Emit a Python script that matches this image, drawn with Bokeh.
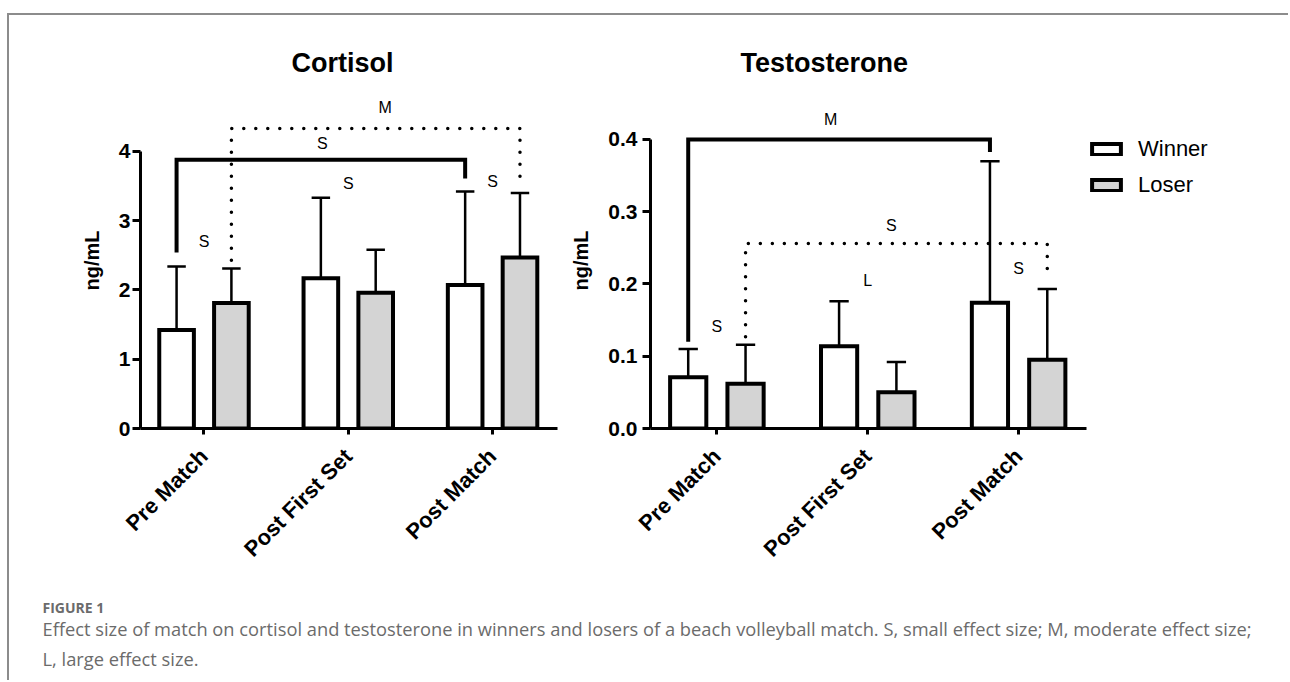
import math
from bokeh.plotting import figure
from bokeh.models import FixedTicker, Legend, LegendItem, Label, Spacer, Div
from bokeh.layouts import row, column
from bokeh.embed import file_html
from bokeh.resources import INLINE
from bokeh.core.properties import value

# ---------------- data ----------------
categories = ["Pre Match", "Post First Set", "Post Match"]
series = ["Winner", "Loser"]

cortisol_winner = [1.42, 2.17, 2.07]
cortisol_loser = [1.81, 1.96, 2.47]
cortisol_winner_err = [2.34, 3.33, 3.42]   # upper end of error bar
cortisol_loser_err = [2.31, 2.58, 3.40]

testo_winner = [0.071, 0.114, 0.174]
testo_loser = [0.062, 0.050, 0.095]
testo_winner_err = [0.110, 0.176, 0.370]
testo_loser_err = [0.116, 0.092, 0.193]

cortisol_ticks = [0, 1, 2, 3, 4]
cortisol_tick_labels = ["0", "1", "2", "3", "4"]
testo_ticks = [0.0, 0.1, 0.2, 0.3, 0.4]
testo_tick_labels = ["0.0", "0.1", "0.2", "0.3", "0.4"]

# effect-size brackets (series of both ends, start/end category, heights)
cortisol_br_series = ["Winner", "Loser"]
cortisol_br_start = [0, 0]
cortisol_br_end = [2, 2]
cortisol_br_left = [2.54, 2.43]
cortisol_br_right = [3.61, 3.54]
cortisol_br_top = [3.88, 4.33]
cortisol_br_style = ["solid", "dotted"]

testo_br_series = ["Winner", "Loser"]
testo_br_start = [0, 0]
testo_br_end = [2, 2]
testo_br_left = [0.120, 0.127]
testo_br_right = [0.3825, 0.2156]
testo_br_top = [0.400, 0.256]
testo_br_style = ["solid", "dotted"]

# effect-size letters
cortisol_eff_text = ["M", "S", "S", "S", "S"]
cortisol_eff_x = [1.255, 0.82, 0.0, 1.0, 2.0]
cortisol_eff_y = [4.63, 4.12, 2.70, 3.54, 3.57]

testo_eff_text = ["M", "S", "L", "S", "S"]
testo_eff_x = [0.754, 1.157, 1.0, 2.0, 0.0]
testo_eff_y = [0.4278, 0.2808, 0.2044, 0.221, 0.1413]

caption_head = "FIGURE 1"
caption_line1 = ("Effect size of match on cortisol and testosterone in winners and losers of a "
                 "beach volleyball match. S, small effect size; M, moderate effect size;")
caption_line2 = "L, large effect size."

# ---------------- style ----------------
FONT = "Liberation Sans"
OFFSET = {"Winner": -0.19, "Loser": 0.19}
FILL = {"Winner": "#ffffff", "Loser": "#d4d4d4"}
BAR_W = 0.24
CAP = 0.064
BORDER = "#8c8c8c"


def make_chart(title, winner, loser, werr, lerr, ticks, tick_labels, yend,
               fw, mbl, mbr, br, eff, title_offset, tick_standoff, legend=False):
    p = figure(frame_width=fw, frame_height=336, x_range=(-0.44, 2.45),
               y_range=(0, yend), output_backend="svg", toolbar_location=None,
               min_border_left=mbl, min_border_right=mbr, min_border_top=77,
               min_border_bottom=150, background_fill_color="white",
               border_fill_color="white")
    p.grid.visible = False
    p.outline_line_color = None

    p.title.text = title
    p.title.align = "left"
    p.title.offset = title_offset
    p.title.standoff = 30
    p.title.text_font = FONT
    p.title.text_font_size = "27px"
    p.title.text_font_style = "bold"
    p.title.text_color = "black"

    idx = list(range(len(categories)))
    renderers = {}
    for s, vals, errs in (("Winner", winner, werr), ("Loser", loser, lerr)):
        xs = [i + OFFSET[s] for i in idx]
        p.segment(x0=xs, y0=vals, x1=xs, y1=errs, line_color="black", line_width=2.5)
        p.segment(x0=[x - CAP for x in xs], y0=errs, x1=[x + CAP for x in xs], y1=errs,
                  line_color="black", line_width=2.5)
        renderers[s] = p.vbar(x=xs, top=vals, width=BAR_W, bottom=0,
                              fill_color=FILL[s], line_color="black", line_width=4,
                              line_join="miter")

    ser, st, en, yl, yr, yt, sty = br
    for k in range(len(ser)):
        x0 = st[k] + OFFSET[ser[k]]
        x1 = en[k] + OFFSET[ser[k]]
        xs = [x0, x0, x1, x1]
        ys = [yl[k], yt[k], yt[k], yr[k]]
        if sty[k] == "solid":
            p.line(xs, ys, line_color="black", line_width=4, line_join="miter",
                   line_cap="butt")
        else:
            p.line(xs, ys, line_color="black", line_width=3.5, line_dash="0 12",
                   line_cap="round", line_join="round")

    et, ex, ey = eff
    p.text(x=ex, y=ey, text=et, text_align="center", text_baseline="middle",
           text_font=value(FONT), text_font_size="16px", text_color="black")

    # x axis
    xa = p.xaxis[0]
    xa.ticker = FixedTicker(ticks=idx)
    xa.major_label_overrides = {i: c for i, c in zip(idx, categories)}
    xa.major_label_orientation = math.pi / 4
    xa.major_label_standoff = 18
    xa.major_label_text_font = FONT
    xa.major_label_text_font_size = "22px"
    xa.major_label_text_font_style = "bold"
    xa.major_label_text_color = "black"
    xa.axis_line_width = 3
    xa.major_tick_line_width = 3
    xa.major_tick_out = 6
    xa.major_tick_in = 0
    xa.minor_tick_out = 0
    xa.minor_tick_in = 0

    ya = p.yaxis[0]
    ya.ticker = FixedTicker(ticks=ticks)
    ya.major_label_overrides = {t: l for t, l in zip(ticks, tick_labels)}
    ya.bounds = (ticks[0], ticks[-1])
    ya.major_label_standoff = tick_standoff
    ya.major_label_text_font = FONT
    ya.major_label_text_font_size = "21px"
    ya.major_label_text_font_style = "bold"
    ya.major_label_text_color = "black"
    ya.axis_line_width = 3
    ya.major_tick_line_width = 3
    ya.major_tick_out = 8
    ya.major_tick_in = 0
    ya.minor_tick_out = 0
    ya.minor_tick_in = 0
    ya.axis_label = "ng/mL"
    ya.axis_label_standoff = 13
    ya.axis_label_text_font = FONT
    ya.axis_label_text_font_size = "20px"
    ya.axis_label_text_font_style = "bold"
    ya.axis_label_text_color = "black"

    if legend:
        lg = Legend(items=[LegendItem(label=s, renderers=[renderers[s]]) for s in series],
                    location=(2, 230), orientation="vertical",
                    glyph_width=36, glyph_height=14, label_standoff=14, spacing=10,
                    label_height=26, padding=0, margin=0, border_line_color=None,
                    background_fill_alpha=0, label_text_font=FONT,
                    label_text_font_size="22px", label_text_color="black")
        p.add_layout(lg, "right")
    return p


left = make_chart("Cortisol", cortisol_winner, cortisol_loser, cortisol_winner_err,
                  cortisol_loser_err, cortisol_ticks, cortisol_tick_labels, 4.85,
                  417, 131, 10,
                  (cortisol_br_series, cortisol_br_start, cortisol_br_end, cortisol_br_left,
                   cortisol_br_right, cortisol_br_top, cortisol_br_style),
                  (cortisol_eff_text, cortisol_eff_x, cortisol_eff_y), 151, 2)

right = make_chart("Testosterone", testo_winner, testo_loser, testo_winner_err,
                   testo_loser_err, testo_ticks, testo_tick_labels, 0.465,
                   436, 80, 205,
                   (testo_br_series, testo_br_start, testo_br_end, testo_br_left,
                    testo_br_right, testo_br_top, testo_br_style),
                   (testo_eff_text, testo_eff_x, testo_eff_y), 90, 5, legend=True)

# caption panel
CAP_H = 102
cap = figure(width=1279, height=CAP_H, output_backend="svg", toolbar_location=None,
             min_border=0, x_range=(0, 1), y_range=(0, 1),
             x_axis_location=None, y_axis_location=None, outline_line_color=None)
cap.grid.visible = False
cap.add_layout(Label(x=33, y=73, x_units="screen", y_units="screen", text=caption_head,
                     text_font="Open Sans", text_font_size="14px", text_font_style="bold",
                     text_color="#6b6b6b", text_baseline="alphabetic"))
cap.add_layout(Label(x=33, y=52, x_units="screen", y_units="screen", text=caption_line1,
                     text_font="Open Sans", text_font_size="18.3px",
                     text_color="#6b6b6b", text_baseline="alphabetic"))
cap.add_layout(Label(x=33, y=22, x_units="screen", y_units="screen", text=caption_line2,
                     text_font="Open Sans", text_font_size="18.3px",
                     text_color="#6b6b6b", text_baseline="alphabetic"))

vline = Div(text="", width=2, height=2 + 563 + CAP_H, margin=0,
            styles={"background-color": BORDER})
hline = Div(text="", width=1279, height=2, margin=0, styles={"background-color": BORDER})

layout = row(Spacer(width=7, height=10, margin=0),
             column(Spacer(width=10, height=13, margin=0),
                    row(vline, column(hline, row(left, right), cap))))

open("out.html", "w").write(file_html(layout, INLINE))
